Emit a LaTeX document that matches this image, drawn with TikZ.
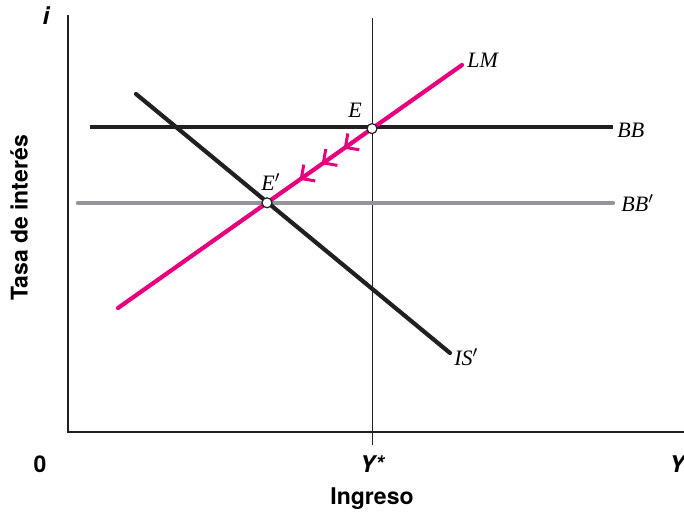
\documentclass[tikz,border=0pt]{standalone}
\usepackage{fontspec}
\setmainfont{Liberation Serif}
\setsansfont{TeX Gyre Heros}
\usetikzlibrary{arrows.meta,decorations.markings}

\definecolor{lmpink}{HTML}{E6007E}
\definecolor{bbgray}{HTML}{939598}
\definecolor{inkblack}{HTML}{231F20}

\tikzset{
    axisline/.style={inkblack, line width=0.8pt},
    curvelbl/.style={font=\fontsize{11}{13}\selectfont\itshape, inner sep=1pt},
    axislbl/.style={font=\fontsize{11.5}{13}\sffamily\bfseries, inner sep=1pt},
    eqpoint/.style={circle, draw=inkblack, fill=white, line width=0.6pt, inner sep=0pt, minimum size=5pt},
    barbtip/.style={lmpink, line width=1.5pt}
}

\begin{document}
\begin{tikzpicture}[x=0.5pt, y=-0.5pt]
        \useasboundingbox (0,0) rectangle (684,515);

        % Axes
        \coordinate (O) at (68,432);
        \coordinate (ytop) at (68,15);
        \coordinate (xend) at (684,432);
        \draw[axisline] (ytop) -- (O) -- (xend);
        \node[axislbl, font=\fontsize{12}{13}\sffamily\bfseries\itshape] (ilbl) at (46,16) {i};
        \node[axislbl] (zero) at (40,464) {0};
        \node[axislbl, font=\fontsize{11.5}{13}\sffamily\bfseries\itshape] (ystar) at (372,464) {Y*};
        \node[axislbl, font=\fontsize{11.5}{13}\sffamily\bfseries\itshape] (ylbl) at (677,464) {Y};
        \node[axislbl] (ingreso) at (372,499) {Ingreso};
        \node[axislbl, rotate=90] (tasa) at (19,218) {Tasa de interés};

        % Full employment output
        \coordinate (ysttop) at (372,18);
        \coordinate (ystbot) at (372,445);
        \draw[inkblack, line width=0.5pt] (ysttop) -- (ystbot);

        % BB and BB'
        \coordinate (bb1) at (90,127);
        \coordinate (bb2) at (613,127);
        \draw[inkblack, line width=2.4pt] (bb1) -- (bb2);
        \node[curvelbl, right] (bblbl) at (615,130) {BB};
        \coordinate (bbp1) at (78,203);
        \coordinate (bbp2) at (613,203);
        \draw[bbgray, line width=2.2pt, line cap=round] (bbp1) -- (bbp2);
        \node[curvelbl, right] (bbplbl) at (619,203) {BB$'$};

        % IS'
        \coordinate (is1) at (136,94);
        \coordinate (is2) at (450,353);
        \draw[inkblack, line width=2.1pt, line cap=round] (is1) -- (is2);
        \node[curvelbl, right] (islbl) at (452,357) {IS$'$};

        % LM with the adjustment from E to E'
        \coordinate (lm1) at (118,308);
        \coordinate (lm2) at (462,65);
        \coordinate (E) at (372,128.6);
        \coordinate (Ep) at (267,202.8);
        \draw[lmpink, line width=2.1pt, line cap=round] (lm1) -- (lm2);
        \node[curvelbl, right] (lmlbl) at (465,60) {LM};
        \path[postaction=decorate, decoration={markings,
                mark=at position 0.27 with {\arrow[barbtip]{Straight Barb[length=5pt, width=10pt]}},
                mark=at position 0.48 with {\arrow[barbtip]{Straight Barb[length=5pt, width=10pt]}},
                mark=at position 0.69 with {\arrow[barbtip]{Straight Barb[length=5pt, width=10pt]}}}]
            (E) -- (Ep);

        % Equilibria
        \node[eqpoint] (Enode) at (E) {};
        \node[eqpoint] (Epnode) at (Ep) {};
        \node[curvelbl] (Elbl) at (355,110) {E};
        \node[curvelbl] (Eplbl) at (271,182) {E$'$};
    \end{tikzpicture}
\end{document}
